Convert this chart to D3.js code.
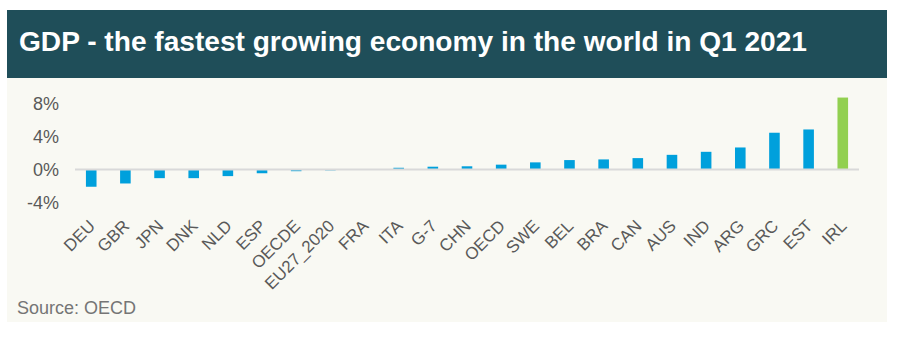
<!DOCTYPE html>
<html>
<head>
<meta charset="utf-8">
<script src="https://cdn.jsdelivr.net/npm/d3@7/dist/d3.min.js"></script>
<style>
  html, body { margin: 0; padding: 0; background: #ffffff; }
  svg { display: block; }
</style>
</head>
<body>
<svg id="chart" width="903" height="337"></svg>
<script>
// ---- data ----
const categoryList = ["DEU","GBR","JPN","DNK","NLD","ESP","OECDE","EU27_2020","FRA","ITA","G-7","CHN","OECD","SWE","BEL","BRA","CAN","AUS","IND","ARG","GRC","EST","IRL"];
const gdpGrowth = [-2.1, -1.7, -1.05, -1.05, -0.8, -0.45, -0.2, -0.1, 0.0, 0.22, 0.35, 0.4, 0.6, 0.88, 1.16, 1.24, 1.4, 1.8, 2.17, 2.7, 4.5, 4.9, 8.8];
const highlight = "IRL";
const yTicks = [-4, 0, 4, 8];
const titleText = "GDP - the fastest growing economy in the world in Q1 2021";
const sourceText = "Source: OECD";

const data = categoryList.map((c, i) => ({ country: c, value: gdpGrowth[i] }));

const svg = d3.select("#chart");
const font = "'Liberation Sans', Arial, Helvetica, sans-serif";

// panel background
svg.append("rect").attr("x", 7).attr("y", 78).attr("width", 880).attr("height", 244).attr("fill", "#f9f9f3");
// title band
svg.append("rect").attr("x", 7).attr("y", 10).attr("width", 880).attr("height", 68).attr("fill", "#1f4e59");
svg.append("text")
  .attr("x", 19).attr("y", 51)
  .attr("fill", "#ffffff")
  .attr("font-family", font)
  .attr("font-weight", "bold")
  .attr("font-size", 28)
  .attr("textLength", 788)
  .attr("lengthAdjust", "spacingAndGlyphs")
  .text(titleText);

// scales
const x = d3.scaleBand()
  .domain(categoryList)
  .range([75, 859])
  .paddingInner(0.69)
  .paddingOuter(0.32);

const y = d3.scaleLinear()
  .domain([-4, 8])
  .range([202.3, 104.1]);

// y axis labels
const yAxis = d3.axisLeft(y).tickValues(yTicks).tickFormat(d => d + "%").tickSize(0).tickPadding(0);
const yg = svg.append("g").attr("transform", "translate(59,0)").call(yAxis);
yg.select(".domain").remove();
yg.selectAll("text")
  .attr("font-family", font)
  .attr("font-size", 18)
  .attr("fill", "#595959");

// bars
svg.append("g").selectAll("rect")
  .data(data)
  .join("rect")
  .attr("x", d => x(d.country))
  .attr("width", x.bandwidth())
  .attr("y", d => y(Math.max(0, d.value)))
  .attr("height", d => Math.abs(y(d.value) - y(0)))
  .attr("fill", d => d.country === highlight ? "#92d050" : "#00a0dc");

// zero line
svg.append("line")
  .attr("x1", 75).attr("x2", 859)
  .attr("y1", y(0)).attr("y2", y(0))
  .attr("stroke", "#d9d9d9")
  .attr("stroke-width", 2);

// x axis labels (rotated)
const xAxis = d3.axisBottom(x).tickSize(0).tickPadding(0);
const xg = svg.append("g").call(xAxis);
xg.select(".domain").remove();
xg.selectAll(".tick text")
  .attr("font-family", font)
  .attr("font-size", 17)
  .attr("fill", "#595959")
  .attr("text-anchor", "end")
  .attr("dy", 0)
  .attr("y", 0)
  .attr("transform", "translate(5,227) rotate(-45)");

// source
svg.append("text")
  .attr("x", 17).attr("y", 314)
  .attr("fill", "#757575")
  .attr("font-family", font)
  .attr("font-size", 18)
  .text(sourceText);
</script>
</body>
</html>
